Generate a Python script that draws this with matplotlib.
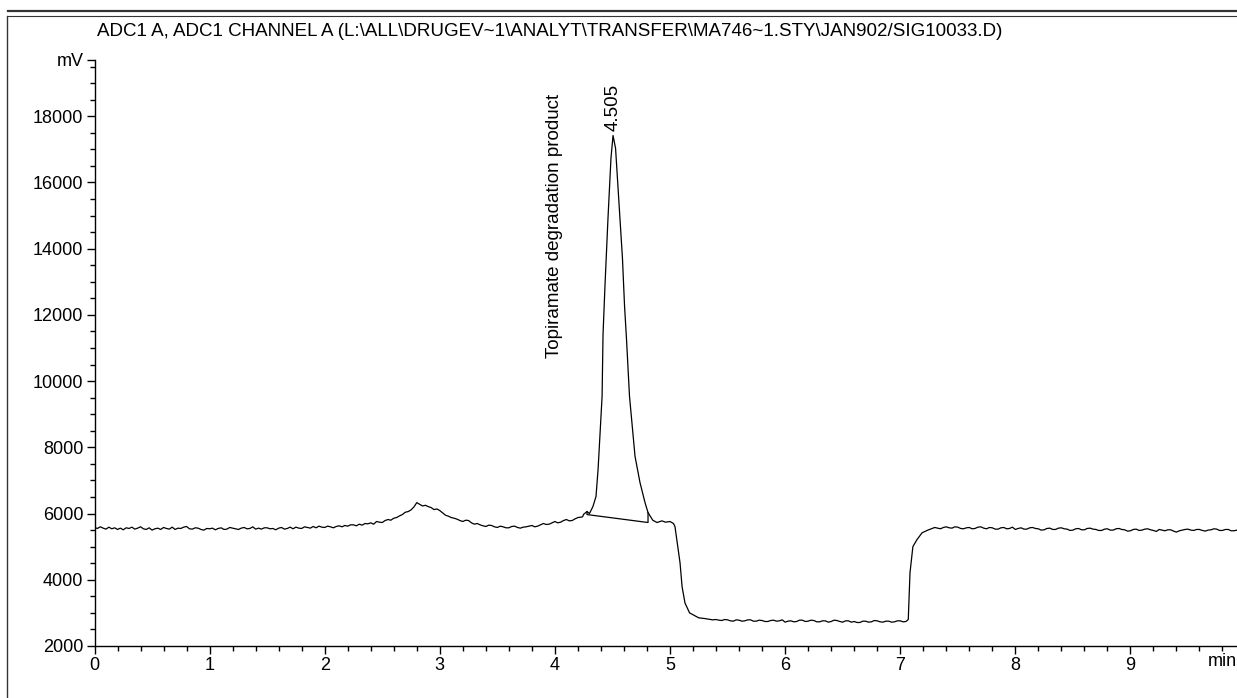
import numpy as np
import matplotlib
matplotlib.use('Agg')
import matplotlib.pyplot as plt
from matplotlib.lines import Line2D
from matplotlib.ticker import MultipleLocator

plt.rcParams['font.family'] = ['Liberation Sans', 'DejaVu Sans']

#############################################################
''' Data read off the chromatogram '''

title = 'ADC1 A, ADC1 CHANNEL A (L:\\ALL\\DRUGEV~1\\ANALYT\\TRANSFER\\MA746~1.STY\\JAN902/SIG10033.D)'
peak_name = 'Topiramate degradation product'
peak_rt = 4.505

# baseline before the peak, 0.000 - 4.200 min every 0.025 min
pre_t = np.round(np.arange(0, 4.2001, 0.025), 3)
pre_mv = [5580, 5550, 5600, 5560, 5530, 5590, 5540, 5570, 5520, 5560,
          5510, 5570, 5550, 5590, 5530, 5560, 5600, 5540, 5520, 5570,
          5500, 5540, 5560, 5520, 5580, 5550, 5530, 5590, 5520, 5560,
          5550, 5590, 5610, 5540, 5530, 5570, 5560, 5520, 5500, 5550,
          5540, 5560, 5510, 5550, 5570, 5520, 5530, 5580, 5560, 5540,
          5520, 5560, 5580, 5540, 5550, 5600, 5530, 5560, 5530, 5570,
          5570, 5540, 5550, 5510, 5560, 5580, 5530, 5550, 5590, 5540,
          5590, 5560, 5550, 5600, 5580, 5560, 5610, 5570, 5620, 5590,
          5580, 5620, 5600, 5570, 5610, 5630, 5600, 5640, 5620, 5660,
          5660, 5630, 5680, 5650, 5700, 5690, 5720, 5680, 5760, 5740,
          5730, 5790, 5820, 5800, 5860, 5880, 5930, 5970, 6040, 6060,
          6110, 6200, 6330, 6280, 6230, 6250, 6210, 6180, 6120, 6140,
          6090, 6020, 5950, 5920, 5880, 5860, 5830, 5790, 5760, 5800,
          5790, 5720, 5680, 5700, 5660, 5630, 5610, 5650, 5640, 5600,
          5580, 5620, 5600, 5570, 5570, 5610, 5620, 5580, 5560, 5590,
          5600, 5620, 5640, 5600, 5620, 5660, 5700, 5670, 5680, 5720,
          5760, 5720, 5740, 5790, 5820, 5780, 5790, 5840, 5880]

# main peak and the drop after it
peak_t = [4.24, 4.25, 4.279, 4.30, 4.33, 4.357, 4.375, 4.41, 4.418, 4.435,
          4.461, 4.487, 4.505, 4.527, 4.553, 4.587, 4.605, 4.622, 4.648, 4.696,
          4.739, 4.783, 4.809, 4.85, 4.887, 4.93, 4.96, 5.0, 5.03, 5.043,
          5.087, 5.105, 5.13, 5.17, 5.25, 5.30, 5.37]
peak_mv = [5900, 5980, 6060, 6000, 6210, 6515, 7330, 9545, 11400, 12880,
           14910, 16730, 17420, 17030, 15600, 13700, 12270, 11270, 9545, 7730,
           6940, 6330, 6030, 5800, 5730, 5780, 5740, 5760, 5700, 5610,
           4515, 3790, 3300, 3000, 2850, 2830, 2790]

# low plateau, 5.400 - 7.050 min
low_t = np.round(np.arange(5.40, 7.0501, 0.025), 3)
low_mv = [2800, 2780, 2770, 2800, 2790, 2760, 2750, 2790, 2780, 2750,
          2760, 2790, 2790, 2750, 2750, 2780, 2770, 2740, 2740, 2770,
          2780, 2750, 2760, 2790, 2720, 2750, 2760, 2730, 2740, 2780,
          2780, 2740, 2750, 2780, 2770, 2730, 2730, 2760, 2760, 2720,
          2740, 2780, 2770, 2740, 2720, 2760, 2760, 2720, 2740, 2710,
          2710, 2750, 2750, 2720, 2730, 2770, 2760, 2730, 2720, 2750,
          2750, 2720, 2730, 2760, 2760, 2730, 2740]

# step back up
rise_t = [7.07, 7.085, 7.11, 7.145, 7.19, 7.24, 7.30]
rise_mv = [2800, 4210, 5000, 5210, 5420, 5500, 5580]

# baseline to the end, 7.350 - 9.950 min
post_t = np.round(np.arange(7.35, 9.9501, 0.025), 3)
post_mv = [5540, 5580, 5600, 5570, 5560, 5600, 5590, 5550, 5540, 5570,
           5580, 5540, 5550, 5590, 5600, 5560, 5540, 5580, 5570, 5530,
           5530, 5570, 5580, 5540, 5550, 5590, 5520, 5550, 5570, 5530,
           5530, 5570, 5580, 5550, 5540, 5500, 5510, 5550, 5560, 5520,
           5520, 5560, 5570, 5540, 5530, 5490, 5500, 5540, 5550, 5510,
           5510, 5550, 5560, 5530, 5520, 5490, 5490, 5530, 5540, 5500,
           5500, 5540, 5550, 5520, 5510, 5470, 5480, 5520, 5530, 5490,
           5500, 5530, 5540, 5510, 5490, 5460, 5520, 5500, 5480, 5510,
           5510, 5470, 5440, 5480, 5500, 5520, 5530, 5500, 5490, 5520,
           5520, 5490, 5470, 5500, 5510, 5540, 5530, 5490, 5490, 5520,
           5520, 5480, 5480, 5500, 5510]

# integration baseline drawn under the peak
base_t = [4.279, 4.279, 4.809, 4.809]
base_mv = [6060, 5970, 5730, 6030]

time_min = np.concatenate([pre_t, peak_t, low_t, rise_t, post_t])
signal_mv = np.concatenate([pre_mv, peak_mv, low_mv, rise_mv, post_mv])

#############################################################
''' Plot '''

W, H = 1237, 698
fig = plt.figure(figsize=(W/100, H/100), dpi=100)
ax = fig.add_axes([94.5/W, 1-646/H, (W-94.5)/W, (646-60)/H])

ax.plot(time_min, signal_mv, color='black', linewidth=0.9)
ax.plot(base_t, base_mv, color='black', linewidth=0.9)

y_top = 19700
ax.set_xlim(0, 9.926)
ax.set_ylim(2000, y_top)

ax.xaxis.set_major_locator(MultipleLocator(1))
ax.xaxis.set_minor_locator(MultipleLocator(0.2))
yt = list(range(2000, 18001, 2000)) + [y_top]
ax.set_yticks(yt)
ax.set_yticklabels([str(v) for v in yt[:-1]] + ['mV'])
ax.yaxis.set_minor_locator(MultipleLocator(500))

for s in ['top', 'right']:
    ax.spines[s].set_visible(False)
for s in ['left', 'bottom']:
    ax.spines[s].set_linewidth(1.0)

ax.tick_params(which='major', length=6, width=1.0, labelsize=13, pad=2)
ax.tick_params(which='minor', length=3.5, width=1.0)

ax.text(9.80, -0.012, 'min', transform=ax.get_xaxis_transform(),
        ha='center', va='top', fontsize=13)

ax.text(4.0, 10700, peak_name, rotation=90, ha='center', va='bottom', fontsize=13.5)
ax.text(peak_rt + 0.005, 17550, '{:.3f}'.format(peak_rt), rotation=90,
        ha='center', va='bottom', fontsize=13.5)

fig.text(97/W, 1-32/H, title, ha='left', va='center', fontsize=13.5)

# report frame
fig.add_artist(Line2D([8/W, 1], [1-11/H, 1-11/H], color='#333333', linewidth=1.6))
fig.add_artist(Line2D([8/W, 1], [1-16/H, 1-16/H], color='#333333', linewidth=0.8))
fig.add_artist(Line2D([7.5/W, 7.5/W], [0, 1-16/H], color='#333333', linewidth=1.0))

fig.savefig('out.png', dpi=100)
